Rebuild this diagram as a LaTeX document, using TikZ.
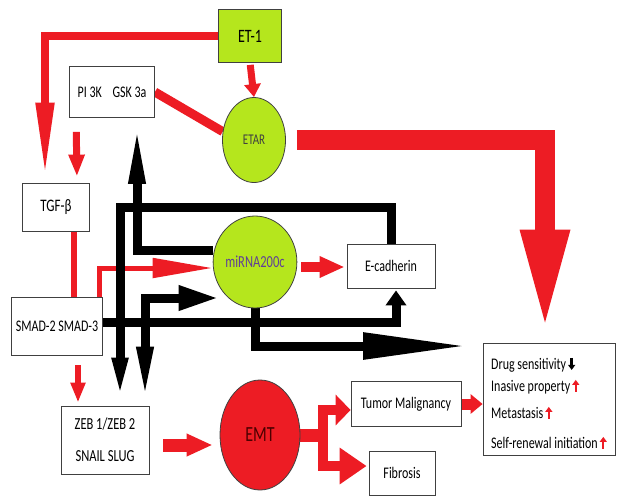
\documentclass[tikz,border=0pt]{standalone}
\usepackage{fontspec}
\setmainfont{Carlito}
\usepackage{graphicx}
\usetikzlibrary{arrows.meta,shapes.geometric}
\definecolor{redarr}{RGB}{237,28,36}
\definecolor{limefill}{RGB}{181,230,29}
\definecolor{mirtext}{RGB}{96,64,150}
\pgfdeclarelayer{back}
\pgfsetlayers{back,main}
\newcommand{\tall}[1]{\scalebox{1}[1.35]{#1}}
\newcommand{\uparr}{\tikz[baseline=0pt]\draw[redarr,line width=2.4pt,-{Triangle[length=5pt,width=7pt]}] (0,0) -- (0,12pt);}
\newcommand{\dnarr}{\tikz[baseline=0pt]\draw[black,line width=2.4pt,-{Triangle[length=5pt,width=7pt]}] (0,12pt) -- (0,0);}
\tikzset{
  box/.style={draw=black!75, line width=0.8pt, fill=white, inner sep=0pt,
    text=black, font=\fontsize{12}{14}\selectfont},
  blob/.style={ellipse, draw=black!75, line width=0.8pt, fill=limefill, inner sep=0pt},
  redline/.style={draw=redarr, line width=#1},
  blkline/.style={draw=black, line width=9pt},
}
\begin{document}
\begin{tikzpicture}[x=1pt, y=-1pt]
  \useasboundingbox (0,0) rectangle (617,496);
  % nodes
  \node[box, fill=limefill, minimum width=63pt, minimum height=53pt,
    font=\fontsize{14}{16}\selectfont] (et1) at (250,36) {\tall{ET-1}};
  \node[box, minimum width=85pt, minimum height=51pt] (pik) at (112,92)
    {\tall{PI 3K\enspace\, GSK 3a}};
  \node[blob, minimum width=63pt, minimum height=85pt,
    font=\fontsize{11}{13}\selectfont, text=black!75] (etar) at (254,140) {\tall{ETAR}};
  \node[box, minimum width=67pt, minimum height=48pt,
    font=\fontsize{13}{15}\selectfont] (tgf) at (56,207) {\tall{TGF-β}};
  \node[blob, minimum width=71pt, minimum height=92pt,
    font=\fontsize{12.5}{15}\selectfont, text=mirtext] (mir) at (255,262) {\tall{miRNA200c}};
  \node[box, minimum width=88pt, minimum height=44pt] (ecad) at (391,266) {\tall{E-cadherin}};
  \node[box, minimum width=91pt, minimum height=58pt] (smad) at (57,326) {\tall{SMAD-2 SMAD-3}};
  \node[box, minimum width=88pt, minimum height=68pt, align=center,
    font=\fontsize{12.5}{32}\selectfont] (zeb) at (105,440)
    {\tall{ZEB 1/ZEB 2}\\\tall{SNAIL SLUG}};
  \node[blob, fill=redarr, minimum width=80pt, minimum height=110pt,
    font=\fontsize{16}{18}\selectfont, text=black!70!red] (emt) at (260,435) {\tall{EMT}};
  \node[box, minimum width=110pt, minimum height=45pt] (tum) at (406,404) {\tall{Tumor Malignancy}};
  \node[box, minimum width=66pt, minimum height=44pt] (fib) at (402,473) {\tall{Fibrosis}};
  \node[box, minimum width=132pt, minimum height=112pt, align=left,
    font=\fontsize{12}{20}\selectfont] (res) at (549,399)
    {\rule{0pt}{22pt}\tall{Drug sensitivity}\,\dnarr\\[2pt]
     \tall{Inasive property}\,\uparr\\[7pt]
     \tall{Metastasis}\,\uparr\\[10pt]
     \tall{Self-renewal initiation}\,\uparr};
  \coordinate (fork) at ([xshift=23pt]emt.east);
  \coordinate (outtip) at (467,346);
  \begin{pgfonlayer}{back}
    % red links
    \draw[redline=8pt, -{Triangle[length=75pt,width=17pt]}, shorten >=5pt]
      (et1.west) -| ([xshift=-11pt]tgf.north);
    \draw[redline=7pt, -{Triangle[length=13pt,width=16pt]}, shorten <=2pt]
      (et1.south) -- (etar.north);
    \draw[redline=7pt, -{Triangle[length=22pt,width=15pt]}, shorten <=14pt, shorten >=6pt]
      ([xshift=7pt]pik.south west) -- ([xshift=21pt]tgf.north);
    \draw[redline=9pt] (pik.east) -- (etar.165);
    \draw[redline=20pt, -{Triangle[length=103pt,width=44pt]}, shorten <=11pt, shorten >=10pt]
      (etar.east) -| ([xshift=-4pt]res.north);
    \draw[redline=6pt] ([xshift=18pt]tgf.south) -- ([xshift=18pt]tgf.south |- smad.north);
    \draw[redline=5pt, -{Triangle[length=60pt,width=19pt]}]
      ([xshift=-3pt]smad.north east) |- ([yshift=-6pt]mir.west);
    \draw[redline=10pt, -{Triangle[length=25pt,width=20pt]}, shorten <=4pt, shorten >=2pt]
      ([yshift=-5pt]mir.east) -- ([yshift=-5pt]mir.east -| ecad.west);
    \draw[redline=6pt, -{Triangle[length=20pt,width=14pt]}, shorten <=10pt, shorten >=3pt]
      ([xshift=21pt]smad.south) -- ([xshift=21pt]smad.south |- zeb.north);
    \draw[redline=13pt, -{Triangle[length=26pt,width=21pt]}, shorten <=14pt, shorten >=7pt]
      ([yshift=-5pt]zeb.east) -- ([yshift=-5pt]zeb.east -| emt.west);
    \draw[redline=13pt] (emt.east) -- (fork);
    \draw[redline=10pt, -{Triangle[length=15pt,width=30pt]}] (fork) |- ([yshift=-6pt]tum.west);
    \draw[redline=10pt, -{Triangle[length=27pt,width=35pt]}, shorten >=2pt]
      (fork) |- ([yshift=7pt]fib.west);
    \draw[redline=11pt, -{Triangle[length=12pt,width=19pt]}, shorten <=1pt]
      (tum.east) -- (tum.east -| res.west);
    % black links
    \draw[blkline, -{Triangle[length=62pt,width=15pt]}, shorten >=4pt]
      ([yshift=12pt]mir.west) -| ([xshift=25pt]pik.south);
    \draw[blkline, -{Triangle[length=45pt,width=14pt]}, shorten >=3pt]
      (ecad.north) -- ++(0,-36) -| ([xshift=15pt]zeb.north);
    \draw[blkline, -{Triangle[length=15pt,width=20pt]}, shorten >=2pt]
      ([yshift=4pt]smad.east) -| ([xshift=5pt]ecad.south);
    \draw[blkline, {Triangle[length=56pt,width=15pt]}-{Triangle[length=40pt,width=23pt]},
      shorten <=3pt, shorten >=-6pt]
      ([xshift=40pt]zeb.north) |- ([yshift=-36pt]mir.west);
    \draw[blkline, -{Triangle[length=104pt,width=25pt]}] (mir.south) |- (outtip);
  \end{pgfonlayer}
\end{tikzpicture}
\end{document}
